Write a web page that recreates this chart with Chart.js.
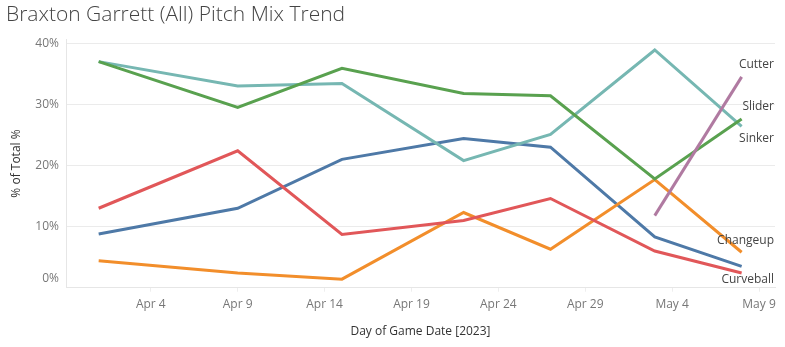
<!DOCTYPE html>
<html>
<head>
<meta charset="utf-8">
<script src="https://cdn.jsdelivr.net/npm/chart.js@4.4.1/dist/chart.umd.min.js"></script>
<style>
  html, body { margin: 0; padding: 0; background: #ffffff; }
  #wrap { width: 785px; height: 347px; position: relative; }
</style>
</head>
<body>
<div id="wrap"><canvas id="chart" width="785" height="347"></canvas></div>
<script>
// Start dates as day numbers counted from Mar 31, 2023 (Apr 1 = 1, May 1 = 31)
const gameDays = [1, 9, 15, 22, 27, 33, 38];
const gameDates = ['Apr 1', 'Apr 9', 'Apr 15', 'Apr 22', 'Apr 27', 'May 3', 'May 8'];

// Share of pitches thrown in each start (% of total)
const fourSeam  = [8.8, 13.0, 21.0, 24.4, 23.0, 8.3, 3.5];
const changeup  = [4.4, 2.4, 1.4, 12.3, 6.3, 17.7, 5.8];
const curveball = [13.0, 22.4, 8.7, 11.0, 14.6, 6.0, 2.4];
const sinker    = [37.0, 33.0, 33.4, 20.8, 25.1, 38.9, 26.4];
const slider    = [37.0, 29.5, 35.9, 31.8, 31.4, 17.8, 27.6];
const cutter    = [null, null, null, null, null, 11.8, 34.5];

// Axis ticks
const xTickDays   = [4, 9, 14, 19, 24, 29, 34, 39];
const xTickLabels = ['Apr 4', 'Apr 9', 'Apr 14', 'Apr 19', 'Apr 24', 'Apr 29', 'May 4', 'May 9'];
const yTickValues = [0, 10, 20, 30, 40];

const FONT = "'Open Sans', 'Noto Sans', sans-serif";

function points(values) {
  return gameDays
    .map((d, i) => ({ x: d, y: values[i], date: gameDates[i] }))
    .filter(p => p.y !== null);
}

// Later pitch types sit on top, so they are listed first
const series = [
  { name: 'Cutter',    values: cutter,    color: '#b07aa1', side: 'above' },
  { name: 'Slider',    values: slider,    color: '#59a14f', side: 'above' },
  { name: 'Sinker',    values: sinker,    color: '#76b7b2', side: 'below' },
  { name: 'Curveball', values: curveball, color: '#e15759', side: 'below' },
  { name: 'Changeup',  values: changeup,  color: '#f28e2b', side: 'above' },
  { name: 'Four-Seam', values: fourSeam,  color: '#4e79a7', side: null }
];

// Pitch names written at the right end of each line
const endLabels = {
  id: 'endLabels',
  afterDatasetsDraw(chart) {
    const { ctx, chartArea } = chart;
    ctx.save();
    ctx.font = '12px ' + FONT;
    ctx.fillStyle = '#444444';
    ctx.textAlign = 'right';
    ctx.textBaseline = 'middle';
    chart.data.datasets.forEach((ds, i) => {
      if (!ds.endSide) return;
      const pts = chart.getDatasetMeta(i).data;
      const last = pts[pts.length - 1];
      let y = last.y + (ds.endSide === 'above' ? -12 : 12);
      y = Math.max(chartArea.top + 8, Math.min(chartArea.bottom - 8.5, y));
      ctx.fillText(ds.label, chartArea.right - 1, y);
    });
    ctx.restore();
  }
};

new Chart(document.getElementById('chart'), {
  type: 'line',
  data: {
    datasets: series.map(s => ({
      label: s.name,
      data: points(s.values),
      borderColor: s.color,
      backgroundColor: s.color,
      borderWidth: 3,
      pointRadius: 0,
      tension: 0,
      endSide: s.side
    }))
  },
  options: {
    responsive: false,
    animation: false,
    layout: { padding: { left: 6, right: 10, top: 0, bottom: 0 } },
    plugins: {
      legend: { display: false },
      tooltip: { enabled: false },
      title: {
        display: true,
        text: 'Braxton Garrett (All) Pitch Mix Trend',
        align: 'start',
        color: '#444444',
        font: { family: FONT, size: 21, weight: '300', lineHeight: 1.2 },
        padding: { top: 2.9, bottom: 11.2 }
      }
    },
    scales: {
      x: {
        type: 'linear',
        min: -0.88,
        max: 39.92,
        afterBuildTicks(scale) {
          scale.ticks = xTickDays.map(v => ({ value: v }));
        },
        afterFit(scale) { scale.height = 59.3; },
        ticks: {
          autoSkip: false,
          maxRotation: 0,
          padding: 6,
          color: '#777777',
          font: { family: FONT, size: 12 },
          callback: (v) => xTickLabels[xTickDays.indexOf(v)]
        },
        grid: {
          drawOnChartArea: false,
          drawTicks: true,
          tickLength: 4,
          color: '#eeeeee'
        },
        border: { display: true, color: '#e6e6e6' },
        title: {
          display: true,
          text: 'Day of Game Date [2023]',
          color: '#333333',
          font: { family: FONT, size: 12 },
          padding: { top: 0, bottom: 8 }
        }
      },
      y: {
        type: 'linear',
        min: 0,
        max: 40.65,
        afterBuildTicks(scale) {
          scale.ticks = yTickValues.map(v => ({ value: v }));
        },
        afterFit(scale) { scale.width = 60; },
        ticks: {
          padding: 7,
          color: '#777777',
          font: { family: FONT, size: 12, lineHeight: 1.5 },
          callback: (v) => (v === 0 ? ['0%', ''] : v + '%')
        },
        grid: {
          drawTicks: false,
          color: '#ebebeb'
        },
        border: { display: true, color: '#e6e6e6' },
        title: {
          display: true,
          text: '% of Total %',
          color: '#333333',
          font: { family: FONT, size: 12 },
          padding: { top: 3.5, bottom: 0 }
        }
      }
    }
  },
  plugins: [endLabels]
});
</script>
</body>
</html>
